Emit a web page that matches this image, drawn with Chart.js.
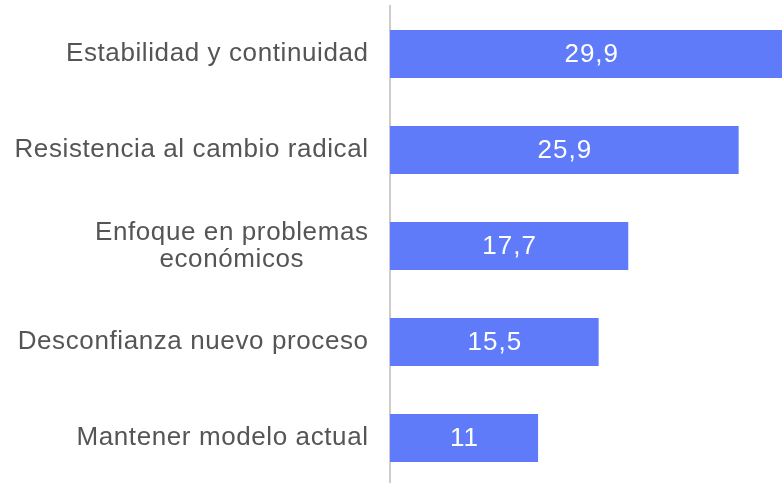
<!DOCTYPE html>
<html>
<head>
<meta charset="utf-8">
<script src="https://cdn.jsdelivr.net/npm/chart.js@4"></script>
<style>
  html, body { margin: 0; padding: 0; background: #fff; overflow: hidden; }
  #wrap { width: 782px; height: 486px; position: relative; }
</style>
</head>
<body>
<div id="wrap"><canvas id="chart"></canvas></div>
<script>
// Chart data
const categories = [
  'Estabilidad y continuidad',
  'Resistencia al cambio radical',
  ['Enfoque en problemas', 'económicos'],
  'Desconfianza nuevo proceso',
  'Mantener modelo actual'
];
const values = [29.9, 25.9, 17.7, 15.5, 11];
const axisMax = 29.12;

const FONT = '"Liberation Sans", Arial, Helvetica, sans-serif';

// Category labels, right aligned, multi-line ones centered on each other
const categoryLabels = {
  id: 'categoryLabels',
  afterDraw(chart) {
    const ctx = chart.ctx;
    const yScale = chart.scales.y;
    const right = 368.6;
    const lineHeight = 27;
    ctx.save();
    ctx.font = '26px ' + FONT;
    ctx.letterSpacing = '0.6px';
    ctx.fillStyle = '#555555';
    ctx.textBaseline = 'middle';
    chart.data.labels.forEach((label, i) => {
      const lines = Array.isArray(label) ? label : [label];
      const y = yScale.getPixelForValue(i);
      const maxW = Math.max(...lines.map(l => ctx.measureText(l).width));
      const startY = y - (lines.length - 1) * lineHeight / 2;
      lines.forEach((line, j) => {
        if (lines.length > 1) {
          ctx.textAlign = 'center';
          ctx.fillText(line, right - maxW / 2, startY + j * lineHeight);
        } else {
          ctx.textAlign = 'right';
          ctx.fillText(line, right, startY);
        }
      });
    });
    ctx.restore();
  }
};

// White value labels in the middle of each bar
const valueLabels = {
  id: 'valueLabels',
  afterDatasetsDraw(chart) {
    const ctx = chart.ctx;
    const meta = chart.getDatasetMeta(0);
    ctx.save();
    ctx.font = '26px ' + FONT;
    ctx.letterSpacing = '1px';
    ctx.fillStyle = '#ffffff';
    ctx.textAlign = 'center';
    ctx.textBaseline = 'middle';
    meta.data.forEach((bar, i) => {
      const text = String(values[i]).replace('.', ',');
      ctx.fillText(text, (bar.x + bar.base) / 2 + 0.5, bar.y + 1);
    });
    ctx.restore();
  }
};

const ctx = document.getElementById('chart').getContext('2d');
const chart = new Chart(ctx, {
  type: 'bar',
  data: {
    labels: categories,
    datasets: [{
      data: values,
      backgroundColor: '#5f7bf9',
      borderWidth: 0,
      barPercentage: 0.5,
      categoryPercentage: 1.0
    }]
  },
  options: {
    indexAxis: 'y',
    responsive: true,
    maintainAspectRatio: false,
    animation: false,
    layout: {
      padding: { left: 390, top: 6, right: 0, bottom: 0 }
    },
    plugins: {
      legend: { display: false },
      tooltip: { enabled: false }
    },
    scales: {
      x: {
        display: false,
        min: 0,
        max: axisMax
      },
      y: {
        ticks: { display: false },
        grid: { display: false, drawTicks: false },
        border: { display: true, color: '#cccccc', width: 2 }
      }
    }
  },
  plugins: [categoryLabels, valueLabels]
});
</script>
</body>
</html>
